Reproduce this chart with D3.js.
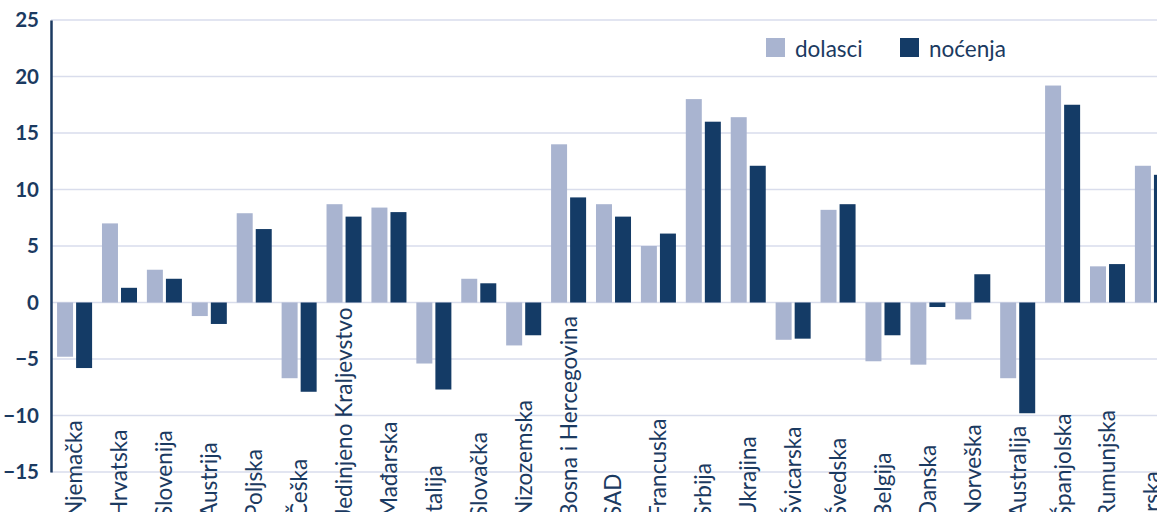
<!DOCTYPE html>
<html>
<head>
<meta charset="utf-8">
<script src="https://cdn.jsdelivr.net/npm/d3@7"></script>
<style>
  html, body { margin: 0; padding: 0; background: #ffffff; overflow: hidden; }
  svg { display: block; }
</style>
</head>
<body>
<svg id="chart" width="1157" height="512"></svg>
<script>
const categories = ["Njemačka","Hrvatska","Slovenija","Austrija","Poljska","Češka","Jedinjeno Kraljevstvo","Mađarska","Italija","Slovačka","Nizozemska","Bosna i Hercegovina","SAD","Francuska","Srbija","Ukrajina","Švicarska","Švedska","Belgija","Danska","Norveška","Australija","Španjolska","Rumunjska","Irska"];
const dolasci = [-4.8, 7.0, 2.9, -1.2, 7.9, -6.7, 8.7, 8.4, -5.4, 2.1, -3.8, 14.0, 8.7, 5.0, 18.0, 16.4, -3.3, 8.2, -5.2, -5.5, -1.5, -6.7, 19.2, 3.2, 12.1];
const nocenja = [-5.8, 1.3, 2.1, -1.9, 6.5, -7.9, 7.6, 8.0, -7.7, 1.7, -2.9, 9.3, 7.6, 6.1, 16.0, 12.1, -3.2, 8.7, -2.9, -0.4, 2.5, -9.8, 17.5, 3.4, 11.3];
const seriesNames = ["dolasci", "noćenja"];
const seriesColors = ["#a9b4d0", "#143b66"];
const yTicks = [-15, -10, -5, 0, 5, 10, 15, 20, 25];

const textColor = "#1b3a61";
const svg = d3.select("#chart");

const y = d3.scaleLinear().domain([-15, 25]).range([472, 20]);
const x = d3.scaleBand().domain(categories).range([51, 1176]).paddingInner(0.22).paddingOuter(0.135);
const xs = d3.scaleBand().domain(seriesNames).range([0, x.bandwidth()]).paddingInner(0.16).paddingOuter(0);

// gridlines
svg.append("g").selectAll("line").data(yTicks).join("line")
  .attr("x1", 51).attr("x2", 1157)
  .attr("y1", d => y(d)).attr("y2", d => y(d))
  .attr("stroke", "#d9ddec").attr("stroke-width", 1.5);

// bars
const rows = categories.map((c, i) => ({c, vals: [dolasci[i], nocenja[i]]}));
const groups = svg.append("g").selectAll("g").data(rows).join("g")
  .attr("transform", d => `translate(${x(d.c)},0)`);
groups.selectAll("rect").data(d => d.vals.map((v, j) => ({v, s: seriesNames[j], j}))).join("rect")
  .attr("x", d => xs(d.s))
  .attr("width", xs.bandwidth())
  .attr("y", d => y(Math.max(0, d.v)))
  .attr("height", d => Math.abs(y(d.v) - y(0)))
  .attr("fill", d => seriesColors[d.j]);

// y axis
const yAxis = d3.axisLeft(y).tickValues(yTicks).tickSize(0).tickPadding(12);
const ya = svg.append("g").attr("transform", "translate(51,0)").call(yAxis);
ya.select(".domain").attr("stroke", textColor).attr("stroke-width", 2.5);
ya.selectAll("text")
  .attr("fill", textColor)
  .style("font-family", "Lato, 'Open Sans', sans-serif")
  .style("font-weight", "bold")
  .style("font-size", "20.5px");

// category labels
svg.append("g").selectAll("text").data(categories).join("text")
  .attr("transform", d => `translate(${x(d) + x.bandwidth() / 2},518) rotate(-90)`)
  .attr("dy", "0.35em")
  .attr("text-anchor", "start")
  .attr("fill", textColor)
  .style("font-family", "Lato, 'Open Sans', sans-serif")
  .style("font-size", "22.6px")
  .text(d => d);

// legend
const legendX = [766, 900];
const lg = svg.append("g").selectAll("g").data(seriesNames).join("g")
  .attr("transform", (d, i) => `translate(${legendX[i]},38)`);
lg.append("rect").attr("width", 19).attr("height", 19).attr("fill", (d, i) => seriesColors[i]);
lg.append("text").attr("x", 29).attr("y", 18.5)
  .attr("fill", textColor)
  .style("font-family", "Lato, 'Open Sans', sans-serif")
  .style("font-size", "22.5px")
  .text(d => d);
</script>
</body>
</html>
